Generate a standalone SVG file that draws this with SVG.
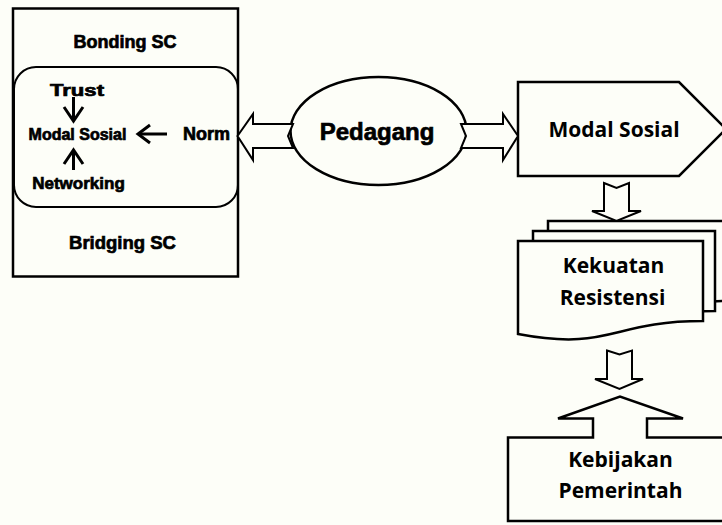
<svg xmlns="http://www.w3.org/2000/svg" width="722" height="525" viewBox="0 0 722 525">
  <style>
    .bg { fill: #fdfef8; }
    .shape { fill: #fdfef8; stroke: #000; stroke-width: 2.5; stroke-linejoin: miter; }
    .thin { fill: none; stroke: #000; stroke-width: 2; }
    .block { fill: #fdfef8; stroke: #000; stroke-width: 2; stroke-linejoin: miter; }
    .line { fill: none; stroke: #000; stroke-width: 3; stroke-linecap: butt; stroke-linejoin: miter; }
    .arial { font-family: "Liberation Sans", Arial, sans-serif; font-weight: bold; fill: #000; stroke: #000; stroke-width: 0.7; text-anchor: middle; }
    .cal { font-family: "Open Sans", "Noto Sans", sans-serif; font-weight: bold; fill: #000; font-size: 21px; text-anchor: middle; }
  </style>

  <rect class="bg" x="0" y="0" width="722" height="525"/>

  <!-- social capital frame: bonding / bridging -->
  <g id="social-capital-frame">
    <rect class="shape" x="13" y="8.5" width="225" height="268"/>
    <rect class="thin" x="14" y="67" width="224" height="140" rx="22" ry="22"/>
    <text class="arial" x="125" y="48" font-size="18">Bonding SC</text>
    <text class="arial" x="122.5" y="249" font-size="18.5">Bridging SC</text>
  </g>

  <g id="trust">
    <text class="arial" x="77" y="96" font-size="17" textLength="54" lengthAdjust="spacingAndGlyphs">Trust</text>
  </g>
  <g id="modal-sosial-inner">
    <text class="arial" x="77.5" y="139.5" font-size="16">Modal Sosial</text>
  </g>
  <g id="norm">
    <text class="arial" x="206.5" y="140" font-size="18">Norm</text>
  </g>
  <g id="networking">
    <text class="arial" x="78.5" y="189" font-size="17">Networking</text>
  </g>

  <!-- trader -->
  <g id="pedagang">
    <ellipse class="shape" cx="378.5" cy="131" rx="88" ry="54"/>
    <text class="arial" x="377" y="139.5" font-size="24">Pedagang</text>
  </g>

  <!-- social capital -->
  <g id="modal-sosial">
    <path class="shape" d="M518,82 H679 L726,129 L679,176 H518 Z"/>
    <text class="cal" x="614" y="137">Modal Sosial</text>
  </g>

  <!-- resistance strength (stacked documents) -->
  <g id="kekuatan-resistensi">
    <path class="shape" d="M548,221 H730 V301 C639,301 639,331.5 548,314 Z"/>
    <path class="shape" d="M533,231 H715 V311 C624,311 624,341.5 533,324 Z"/>
    <path class="shape" d="M518,241 H703 V321 C610.5,321 610.5,351.5 518,334 Z"/>
    <text class="cal" x="613.5" y="273">Kekuatan</text>
    <text class="cal" x="612.5" y="305">Resistensi</text>
  </g>

  <!-- government policy (up arrow callout) -->
  <g id="kebijakan-pemerintah">
    <path class="shape" d="M508,437.5 H593 V418.5 H558 L620,396.5 L683,418.5 H647 V437.5 H735 V521 H508 Z"/>
    <text class="cal" x="620.5" y="467">Kebijakan</text>
    <text class="cal" x="620.5" y="498">Pemerintah</text>
  </g>

  <g id="connectors">
    <!-- inner arrows toward Modal Sosial -->
    <path class="line" d="M73.5,97 V120"/>
    <path class="line" d="M64,107 L73.5,121 L83,107"/>
    <path class="line" d="M73.5,170 V150"/>
    <path class="line" d="M64,164 L73.5,150 L83,164"/>
    <path class="line" d="M167,134 H139"/>
    <path class="line" d="M150,125 L138,134 L150,143"/>

    <!-- block arrows -->
    <path class="block" d="M237.5,136 L253,114 V124 H293 L288,136 L293,148 H253 V160 Z"/>
    <path class="block" d="M461,124 H503 V114 L518,136 L503,160 V148 H461 L466,136 Z"/>
    <path class="block" d="M604,183 L616.5,188 L629,183 V211 H641 L616.5,221 L592,211 H604 Z"/>
    <path class="block" d="M607,350.5 L619.5,354.5 L632,350.5 V379 H643 L619.5,389 L595,379 H607 Z"/>
  </g>
</svg>
